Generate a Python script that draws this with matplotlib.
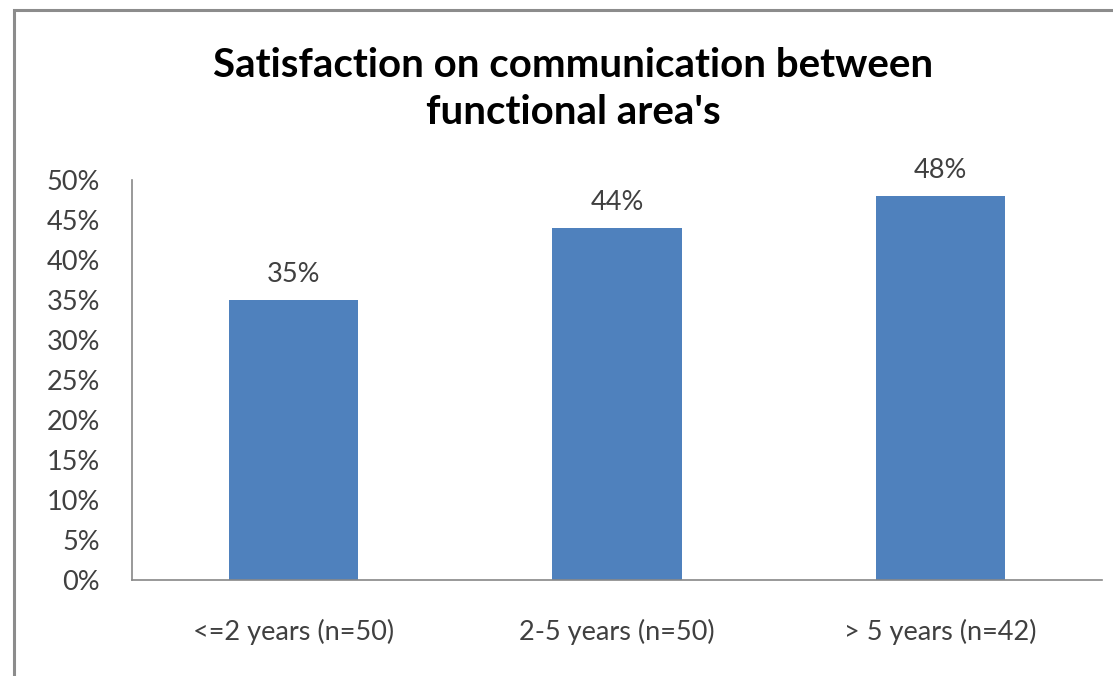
import matplotlib.pyplot as plt
from matplotlib.patches import Rectangle
from matplotlib.ticker import FuncFormatter

# survey results
groups = ['<=2 years (n=50)', '2-5 years (n=50)', '> 5 years (n=42)']
satisfied_pct = [35, 44, 48]
y_ticks = list(range(0, 55, 5))

bar_color = '#4F81BD'
text_color = '#404040'
plt.rcParams['font.family'] = ['Lato', 'DejaVu Sans']

fig = plt.figure(figsize=(11.13, 6.76), dpi=100)
ax = fig.add_axes([0.1186, 0.142, 0.8714, 0.592])

x = range(len(groups))
bars = ax.bar(x, satisfied_pct, width=0.4, color=bar_color, zorder=2)

for rect, val in zip(bars, satisfied_pct):
    ax.annotate(f'{val}%', (rect.get_x() + rect.get_width() / 2, val),
                xytext=(0, 9), textcoords='offset points',
                ha='center', va='bottom', fontsize=19.5, color=text_color)

ax.set_xlim(-0.5, len(groups) - 0.5)
ax.set_ylim(0, 50)
ax.set_yticks(y_ticks)
ax.yaxis.set_major_formatter(FuncFormatter(lambda v, p: f'{v:.0f}%'))
ax.set_xticks(list(x))
ax.set_xticklabels(groups)
ax.tick_params(axis='y', length=0, pad=23, labelsize=19.5, labelcolor=text_color)
ax.tick_params(axis='x', length=0, pad=28, labelsize=19.5, labelcolor=text_color)

for side in ['top', 'right']:
    ax.spines[side].set_visible(False)
for side in ['left', 'bottom']:
    ax.spines[side].set_color('#888888')
    ax.spines[side].set_linewidth(1.2)

fig.text(573 / 1113, 1 - 89 / 676,
         "Satisfaction on communication between\nfunctional area's",
         ha='center', va='center', fontsize=29, fontweight='bold',
         color='black', linespacing=1.32)

# outer chart frame
fig.patches.append(Rectangle((14 / 1113, -0.05), 1.1, 1 - 10 / 676 + 0.05,
                             transform=fig.transFigure, fill=False,
                             edgecolor='#8c8c8c', linewidth=2.2))

fig.savefig('out.png', dpi=100)
